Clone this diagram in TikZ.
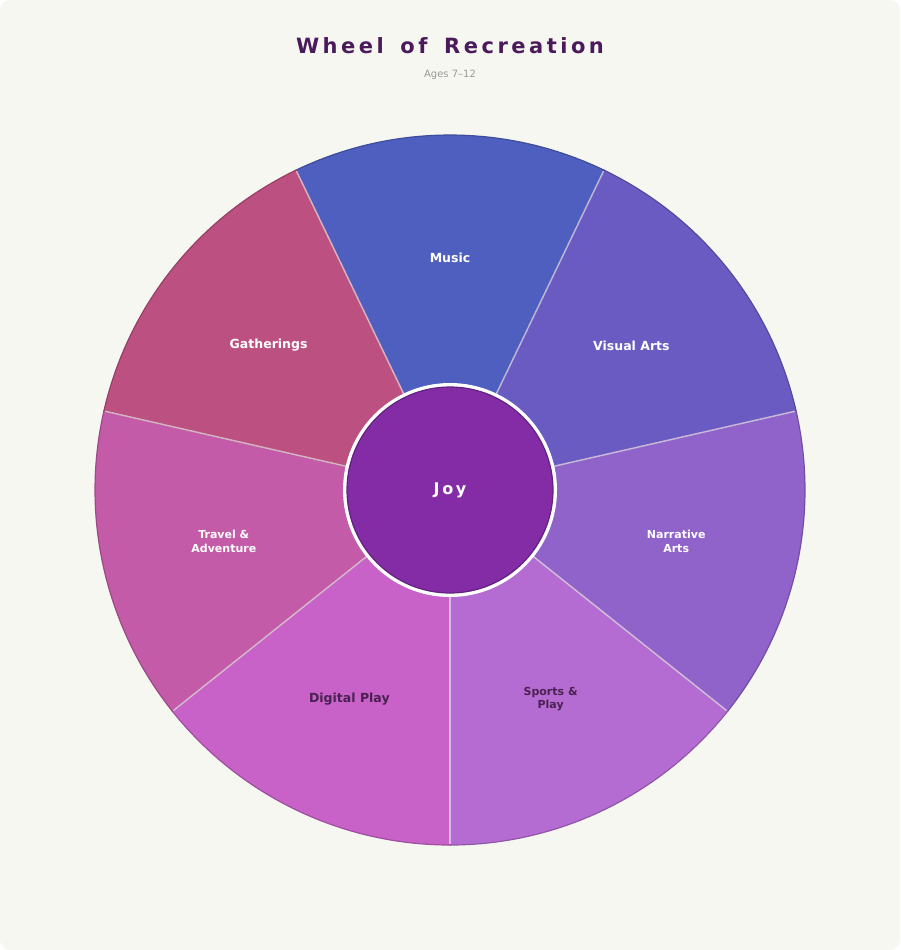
\documentclass[tikz,border=0pt]{standalone}
\usepackage{fontspec}
\setmainfont{DejaVu Sans}
\definecolor{bg}{HTML}{F7F7F2}
\definecolor{ttl}{HTML}{4A1A5A}
\definecolor{dk}{HTML}{4A2150}
\definecolor{cMus}{HTML}{4F5FBF}
\definecolor{cVis}{HTML}{6A5BC2}
\definecolor{cNar}{HTML}{9063CB}
\definecolor{cSpo}{HTML}{B46CD2}
\definecolor{cDig}{HTML}{C862C8}
\definecolor{cTra}{HTML}{C45BA8}
\definecolor{cGat}{HTML}{BC5080}
\definecolor{cJoy}{HTML}{832CA6}
\tikzset{
  sec/.style={fill=#1, draw=#1!80!black, line width=1.2pt},
  sep/.style={draw=white, opacity=0.6, line width=1.5pt},
  lbl/.style={text=white, font=\bfseries\fontsize{12.5}{15}\selectfont, align=center},
  lbls/.style={text=white, font=\bfseries\fontsize{11}{13.5}\selectfont, align=center},
}
\begin{document}
\begin{tikzpicture}[x=1pt,y=1pt]
\fill[bg, rounded corners=10pt] (0,0) rectangle (900,-950);
\useasboundingbox (0,0) rectangle (900,-950);
\node (title) at (450,-46) {\textcolor{ttl}{\bfseries\fontsize{21}{25}\selectfont W\,h\,e\,e\,l\;\, o\,f\;\, R\,e\,c\,r\,e\,a\,t\,i\,o\,n}};
\node (sub) at (450,-75) {\textcolor{gray!80}{\fontsize{10}{12}\selectfont Ages 7–12}};
\begin{scope}[shift={(450,-490)}]
\def\R{355}
\foreach \a/\c in {64.29/cMus,12.86/cVis,-38.57/cNar,-90/cSpo,-141.43/cDig,167.14/cTra,115.71/cGat}{
  \filldraw[sec=\c] (0,0) -- (\a:\R) arc[start angle=\a, delta angle=51.43, radius=\R] -- cycle;
}
\foreach \a in {64.29,12.86,-38.57,-90,-141.43,167.14,115.71}{
  \draw[sep] (0,0) -- (\a:\R-1);
}
\node[lbl] (mus) at (90:232) {Music};
\node[lbl] (vis) at (38.57:232) {Visual Arts};
\node[lbls] (nar) at (-12.86:232) {Narrative\\Arts};
\node[lbls,text=dk] (spo) at (-64.29:232) {Sports \&\\Play};
\node[lbl,text=dk] (dig) at (-115.71:232) {Digital Play};
\node[lbls] (tra) at (-167.14:232) {Travel \&\\Adventure};
\node[lbl] (gat) at (141.43:232) {Gatherings};
\fill[white] (0,0) circle (107);
\filldraw[fill=cJoy, draw=cJoy!75!black, line width=1.2pt] (0,0) circle (103);
\node[text=white, font=\bfseries\fontsize{16}{19}\selectfont] (joy) at (0,0) {J\,o\,y};
\end{scope}
\end{tikzpicture}
\end{document}
